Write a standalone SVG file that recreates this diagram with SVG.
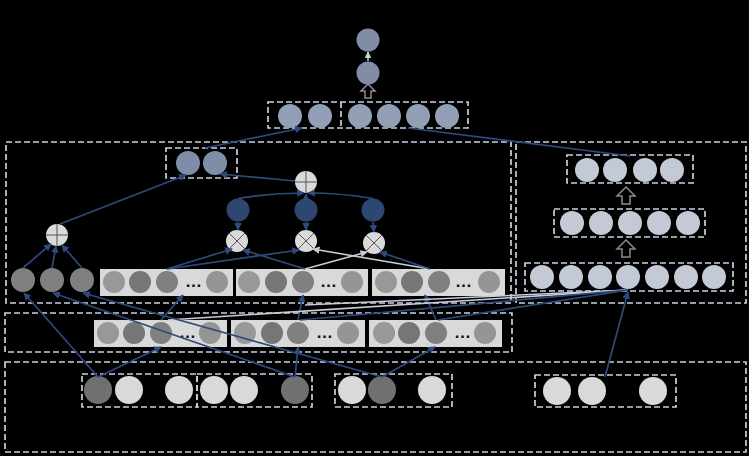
<svg xmlns="http://www.w3.org/2000/svg" width="749" height="456" viewBox="0 0 749 456">
<defs>
<style>
.bx{fill:none;stroke:#c9d1e0;stroke-width:1.7;stroke-dasharray:6 3}
.pn{fill:#d9d9d9}
.c1{fill:#989898}.c2{fill:#767676}.c3{fill:#808080}.c4{fill:#959595}
.lt{fill:#d9d9d9}.dk{fill:#707070}
.rs{fill:#c3cad5}
.tp{fill:#929fb4}
.to{fill:#7f8ea6}
.sb{fill:#7e8ea8}
.dn{fill:#2d4770}
.op{fill:#dadada}
.opl{stroke:#555;stroke-width:1;fill:none}
.ln{stroke:#2e4a7c;stroke-width:1.7;fill:none}
.lg{stroke:#c5ccd8;stroke-width:1.6;fill:none}
.ha{fill:none;stroke:#8c8c8c;stroke-width:1.5}
.dots{font-family:'Liberation Sans',Arial,sans-serif;font-size:17px;font-weight:bold;fill:#111;text-anchor:middle;letter-spacing:-1px}
</style>
<marker id="a" viewBox="0 0 10 10" refX="9" refY="5" markerWidth="4.5" markerHeight="4.5" orient="auto"><path d="M0,0L10,5L0,10z" fill="#2e4a7c"/></marker>
<marker id="b" viewBox="0 0 10 10" refX="9" refY="5" markerWidth="4.5" markerHeight="4.5" orient="auto"><path d="M0,0L10,5L0,10z" fill="#c5ccd8"/></marker>
</defs>
<rect width="749" height="456" fill="#000"/>

<g id="regions">
<rect class="bx" x="6" y="142" width="505" height="161"/>
<rect class="bx" x="516" y="142" width="230" height="161"/>
<rect class="bx" x="5" y="313" width="507" height="39"/>
<rect class="bx" x="5" y="362" width="741" height="90"/>
</g>

<g id="output">
<circle class="to" cx="368" cy="40" r="11.5"/>
<circle class="to" cx="368" cy="73" r="11.5"/>
<polygon class="ha" points="368,84 375,91 371,91 371,98 365,98 365,91 361,91"/>
</g>

<g id="top-row">
<rect class="bx" x="268" y="102" width="200" height="26"/>
<line class="bx" x1="341" y1="102" x2="341" y2="128"/>
<circle class="tp" cx="290" cy="116" r="12"/>
<circle class="tp" cx="320" cy="116" r="12"/>
<circle class="tp" cx="360" cy="116" r="12"/>
<circle class="tp" cx="389" cy="116" r="12"/>
<circle class="tp" cx="418" cy="116" r="12"/>
<circle class="tp" cx="447" cy="116" r="12"/>
</g>

<g id="small-box">
<rect class="bx" x="166" y="148" width="71" height="30"/>
<circle class="sb" cx="188" cy="163" r="12"/>
<circle class="sb" cx="215" cy="163" r="12"/>
</g>

<g id="plus-center">
<circle class="op" cx="306" cy="182" r="11"/>
<path class="opl" d="M295,182H317M306,171V193"/>
</g>
<g id="plus-left">
<circle class="op" cx="57" cy="235" r="11"/>
<path class="opl" d="M46,235H68M57,224V246"/>
</g>

<g id="attn-nodes">
<circle class="dn" cx="238" cy="210" r="11.5"/>
<circle class="dn" cx="306" cy="210" r="11.5"/>
<circle class="dn" cx="373" cy="210" r="11.5"/>
</g>
<g id="mult-nodes">
<circle class="op" cx="237" cy="241" r="11"/>
<path class="opl" d="M229.2,233.2L244.8,248.8M244.8,233.2L229.2,248.8"/>
<circle class="op" cx="306" cy="241" r="11"/>
<path class="opl" d="M298.2,233.2L313.8,248.8M313.8,233.2L298.2,248.8"/>
<circle class="op" cx="374" cy="243" r="11"/>
<path class="opl" d="M366.2,235.2L381.8,250.8M381.8,235.2L366.2,250.8"/>
</g>

<g id="left-three">
<circle class="c3" cx="23" cy="280" r="12"/>
<circle class="c3" cx="52" cy="280" r="12"/>
<circle class="c3" cx="82" cy="280" r="12"/>
</g>

<g id="row1">
<rect class="pn" x="100" y="269" width="133" height="27"/>
<circle class="c1" cx="114" cy="282" r="11"/><circle class="c2" cx="140" cy="282" r="11"/><circle class="c3" cx="167" cy="282" r="11"/><text class="dots" x="193" y="287">…</text><circle class="c4" cx="217" cy="282" r="11"/>
<rect class="pn" x="236" y="269" width="132" height="27"/>
<circle class="c1" cx="249" cy="282" r="11"/><circle class="c2" cx="276" cy="282" r="11"/><circle class="c3" cx="303" cy="282" r="11"/><text class="dots" x="328" y="287">…</text><circle class="c4" cx="352" cy="282" r="11"/>
<rect class="pn" x="372" y="269" width="133" height="27"/>
<circle class="c1" cx="386" cy="282" r="11"/><circle class="c2" cx="412" cy="282" r="11"/><circle class="c3" cx="439" cy="282" r="11"/><text class="dots" x="463" y="287">…</text><circle class="c4" cx="489" cy="282" r="11"/>
</g>

<g id="row2">
<rect class="pn" x="94" y="320" width="133" height="27"/>
<circle class="c1" cx="108" cy="333" r="11"/><circle class="c2" cx="134" cy="333" r="11"/><circle class="c3" cx="161" cy="333" r="11"/><text class="dots" x="187" y="338">…</text><circle class="c4" cx="210" cy="333" r="11"/>
<rect class="pn" x="231" y="320" width="134" height="27"/>
<circle class="c1" cx="245" cy="333" r="11"/><circle class="c2" cx="272" cy="333" r="11"/><circle class="c3" cx="298" cy="333" r="11"/><text class="dots" x="324" y="338">…</text><circle class="c4" cx="348" cy="333" r="11"/>
<rect class="pn" x="369" y="320" width="133" height="27"/>
<circle class="c1" cx="384" cy="333" r="11"/><circle class="c2" cx="409" cy="333" r="11"/><circle class="c3" cx="436" cy="333" r="11"/><text class="dots" x="462" y="338">…</text><circle class="c4" cx="485" cy="333" r="11"/>
</g>

<g id="right-stack">
<rect class="bx" x="567" y="155" width="126" height="28"/>
<circle class="rs" cx="587" cy="170" r="12"/><circle class="rs" cx="615" cy="170" r="12"/><circle class="rs" cx="645" cy="170" r="12"/><circle class="rs" cx="672" cy="170" r="12"/>
<polygon class="ha" points="626,187 635,196 630,196 630,204 622,204 622,196 617,196"/>
<rect class="bx" x="554" y="209" width="151" height="28"/>
<circle class="rs" cx="572" cy="223" r="12"/><circle class="rs" cx="601" cy="223" r="12"/><circle class="rs" cx="630" cy="223" r="12"/><circle class="rs" cx="659" cy="223" r="12"/><circle class="rs" cx="688" cy="223" r="12"/>
<polygon class="ha" points="626,240 635,249 630,249 630,257 622,257 622,249 617,249"/>
<rect class="bx" x="525" y="263" width="208" height="28"/>
<circle class="rs" cx="542" cy="277" r="12"/><circle class="rs" cx="571" cy="277" r="12"/><circle class="rs" cx="600" cy="277" r="12"/><circle class="rs" cx="628" cy="277" r="12"/><circle class="rs" cx="657" cy="277" r="12"/><circle class="rs" cx="686" cy="277" r="12"/><circle class="rs" cx="714" cy="277" r="12"/>
</g>

<g id="inputs">
<rect class="bx" x="82" y="374" width="115" height="33"/>
<circle class="dk" cx="98" cy="390" r="14"/><circle class="lt" cx="129" cy="390" r="14"/><circle class="lt" cx="179" cy="390" r="14"/>
<rect class="bx" x="197" y="374" width="115" height="33"/>
<circle class="lt" cx="214" cy="390" r="14"/><circle class="lt" cx="244" cy="390" r="14"/><circle class="dk" cx="295" cy="390" r="14"/>
<rect class="bx" x="335" y="374" width="117" height="33"/>
<circle class="lt" cx="352" cy="390" r="14"/><circle class="dk" cx="382" cy="390" r="14"/><circle class="lt" cx="432" cy="390" r="14"/>
<rect class="bx" x="535" y="375" width="141" height="32"/>
<circle class="lt" cx="557" cy="391" r="14"/><circle class="lt" cx="592" cy="391" r="14"/><circle class="lt" cx="653" cy="391" r="14"/>
</g>

<g id="connectors">
<line x1="368" y1="61" x2="368" y2="52" stroke="#c5ccd8" stroke-width="1.5" marker-end="url(#b)"/>
<line class="ln" x1="205" y1="148" x2="302" y2="128" marker-end="url(#a)"/>
<line class="ln" x1="408" y1="128" x2="630" y2="156"/>
<line class="ln" x1="60" y1="224" x2="186" y2="175" marker-end="url(#a)"/>
<line class="ln" x1="295" y1="181" x2="220" y2="174" marker-end="url(#a)"/>
<path class="ln" d="M238,198.5Q270,193 304,193" marker-end="url(#a)"/>
<line class="ln" x1="306" y1="198.5" x2="306" y2="194" marker-end="url(#a)"/>
<path class="ln" d="M373,198.5Q340,193 308,193" marker-end="url(#a)"/>
<line class="ln" x1="238" y1="222" x2="238" y2="230" marker-end="url(#a)"/>
<line class="ln" x1="306" y1="222" x2="306" y2="230" marker-end="url(#a)"/>
<line class="ln" x1="373" y1="222" x2="374" y2="232" marker-end="url(#a)"/>
<line class="ln" x1="23" y1="268" x2="51" y2="244" marker-end="url(#a)"/>
<line class="ln" x1="52" y1="268" x2="56" y2="246" marker-end="url(#a)"/>
<line class="ln" x1="82" y1="268" x2="62" y2="245" marker-end="url(#a)"/>
<line class="ln" x1="167" y1="269" x2="232" y2="249" marker-end="url(#a)"/>
<line class="ln" x1="167" y1="269" x2="299" y2="250" marker-end="url(#a)"/>
<line class="ln" x1="305" y1="269" x2="243" y2="250" marker-end="url(#a)"/>
<line class="lg" x1="305" y1="269" x2="367" y2="252" marker-end="url(#b)"/>
<line class="lg" x1="430" y1="269" x2="313" y2="249" marker-end="url(#b)"/>
<line class="ln" x1="430" y1="269" x2="380" y2="252" marker-end="url(#a)"/>
<line class="ln" x1="161" y1="320" x2="183" y2="295" marker-end="url(#a)"/>
<line class="ln" x1="298" y1="320" x2="303" y2="295" marker-end="url(#a)"/>
<line class="ln" x1="436" y1="320" x2="425" y2="295" marker-end="url(#a)"/>
<line class="lg" x1="628" y1="290" x2="168" y2="320"/>
<line class="lg" x1="628" y1="290" x2="305" y2="305"/>
<line class="ln" x1="628" y1="290" x2="300" y2="320"/>
<line class="ln" x1="628" y1="290" x2="438" y2="320"/>
<line class="ln" x1="605" y1="377" x2="628" y2="292" marker-end="url(#a)"/>
<line class="ln" x1="98" y1="377" x2="161" y2="347" marker-end="url(#a)"/>
<line class="ln" x1="98" y1="377" x2="24" y2="293" marker-end="url(#a)"/>
<line class="ln" x1="295" y1="377" x2="298" y2="347" marker-end="url(#a)"/>
<line class="ln" x1="295" y1="377" x2="53" y2="293" marker-end="url(#a)"/>
<line class="ln" x1="382" y1="377" x2="83" y2="293" marker-end="url(#a)"/>
<line class="ln" x1="382" y1="377" x2="435" y2="347" marker-end="url(#a)"/>
</g>
</svg>
